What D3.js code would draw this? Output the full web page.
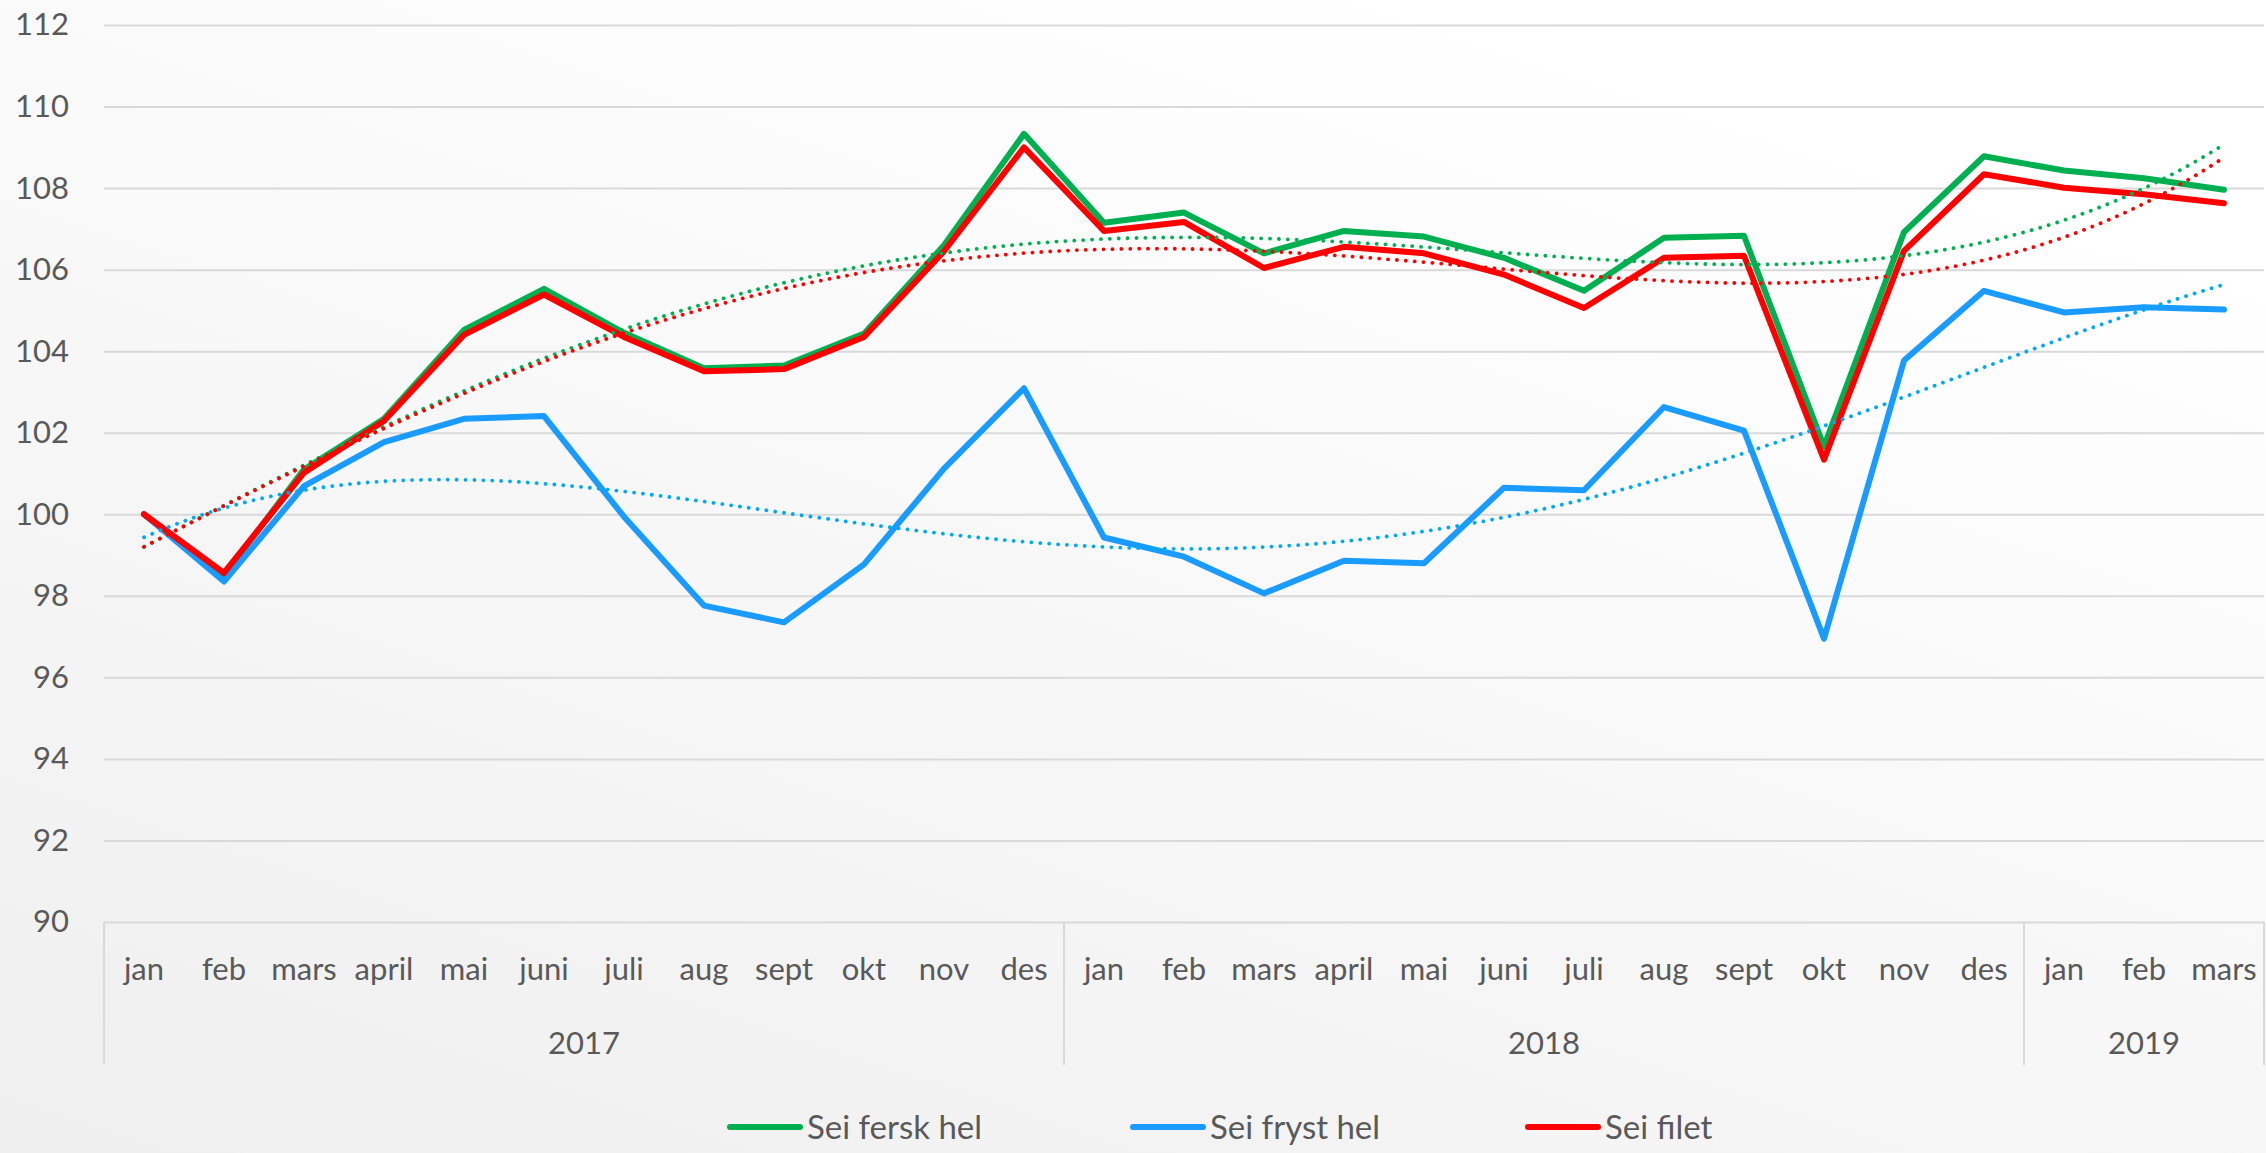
<!DOCTYPE html>
<html>
<head>
<meta charset="utf-8">
<script src="https://cdn.jsdelivr.net/npm/d3@7"></script>
<style>
  html, body { margin: 0; padding: 0; }
  body { width: 2266px; height: 1153px; overflow: hidden; }
  text { font-family: Lato, "Open Sans", sans-serif; fill: #595959; }
</style>
</head>
<body>
<script>
// month labels for the 27 categories
const months = ['jan','feb','mars','april','mai','juni','juli','aug','sept','okt','nov','des',
                'jan','feb','mars','april','mai','juni','juli','aug','sept','okt','nov','des',
                'jan','feb','mars'];
const years = ['2017', '2018', '2019'];
const yearCounts = [12, 12, 3];
const yTicks = [90, 92, 94, 96, 98, 100, 102, 104, 106, 108, 110, 112];

const seiFersk = [100.0, 98.5, 101.1, 102.34, 104.52, 105.53, 104.45, 103.58, 103.65, 104.43, 106.6, 109.33,
                  107.15, 107.4, 106.4, 106.95, 106.81, 106.29, 105.48, 106.78, 106.83, 101.66, 106.92, 108.78,
                  108.43, 108.24, 107.96];
const seiFryst = [100.0, 98.35, 100.69, 101.77, 102.34, 102.41, 99.94, 97.76, 97.35, 98.77, 101.12, 103.09,
                  99.43, 98.96, 98.06, 98.86, 98.8, 100.65, 100.59, 102.63, 102.05, 96.95, 103.77, 105.48,
                  104.95, 105.08, 105.02];
const seiFilet = [100.0, 98.56, 101.02, 102.29, 104.4, 105.39, 104.35, 103.51, 103.56, 104.35, 106.45, 109.0,
                  106.95, 107.17, 106.04, 106.56, 106.4, 105.88, 105.06, 106.29, 106.34, 101.34, 106.46, 108.34,
                  108.01, 107.85, 107.63];

const seriesNames = ['Sei fersk hel', 'Sei fryst hel', 'Sei filet'];
const seriesColors = ['#00b050', '#1a9bff', '#ff0000'];
const trendColors = ['#00b050', '#00aaee', '#ff0000'];
const seriesData = [seiFersk, seiFryst, seiFilet];
const trendOrder = 4;

const W = 2266, H = 1153;
const margin = { top: 25, right: 2, bottom: 231, left: 104 };
const width = W - margin.left - margin.right;
const height = H - margin.top - margin.bottom;

const svg = d3.select('body').append('svg')
  .attr('width', W)
  .attr('height', H);

// background gradient
const grad = svg.append('defs').append('linearGradient')
  .attr('id', 'bg')
  .attr('x1', '0').attr('y1', '1')
  .attr('x2', '0.65').attr('y2', '0');
grad.append('stop').attr('offset', '0').attr('stop-color', '#efefef');
grad.append('stop').attr('offset', '1').attr('stop-color', '#ffffff');
svg.append('rect').attr('width', W).attr('height', H).attr('fill', 'url(#bg)');

const g = svg.append('g')
  .attr('transform', `translate(${margin.left},${margin.top})`);

const x = d3.scaleBand()
  .domain(d3.range(months.length))
  .range([0, width]);
const cx = i => x(i) + x.bandwidth() / 2;

const y = d3.scaleLinear()
  .domain([90, 112])
  .range([height, 0]);

// gridlines
g.append('g')
  .call(d3.axisLeft(y).tickValues(yTicks).tickSize(-width).tickFormat(''))
  .call(s => s.select('.domain').remove())
  .selectAll('line')
  .attr('stroke', '#d9d9d9')
  .attr('stroke-width', 2);

// y axis labels
g.append('g')
  .call(d3.axisLeft(y).tickValues(yTicks).tickSize(0).tickPadding(35))
  .call(s => s.select('.domain').remove())
  .selectAll('text')
  .attr('font-size', 31)
  .attr('fill', '#595959');

// category axis: months
g.append('g')
  .attr('transform', `translate(0,${height})`)
  .call(d3.axisBottom(x).tickSize(0).tickPadding(36).tickFormat(i => months[i]))
  .call(s => s.select('.domain').remove())
  .selectAll('text')
  .attr('font-size', 31)
  .attr('fill', '#595959');

// year groups
let start = 0;
const bounds = [0];
years.forEach((yr, k) => {
  const x0 = x(start);
  const x1 = x(start + yearCounts[k] - 1) + x.bandwidth();
  g.append('text')
    .attr('x', (x0 + x1) / 2)
    .attr('y', height + 132)
    .attr('text-anchor', 'middle')
    .attr('font-size', 31)
    .text(yr);
  start += yearCounts[k];
  bounds.push(start);
});
g.selectAll('.sep')
  .data(bounds)
  .enter().append('line')
  .attr('x1', d => d < months.length ? x(d) : width)
  .attr('x2', d => d < months.length ? x(d) : width)
  .attr('y1', height)
  .attr('y2', height + 143)
  .attr('stroke', '#d9d9d9')
  .attr('stroke-width', 2);

// series lines
const line = d3.line()
  .x((d, i) => cx(i))
  .y(d => y(d));

seriesData.forEach((s, k) => {
  g.append('path')
    .datum(s)
    .attr('fill', 'none')
    .attr('stroke', seriesColors[k])
    .attr('stroke-width', 6)
    .attr('stroke-linejoin', 'round')
    .attr('stroke-linecap', 'round')
    .attr('d', line);
});

// polynomial trendline (least squares), like the spreadsheet trendline
function polyFit(ys, order) {
  const n = order + 1;
  const A = d3.range(n).map(() => new Array(n + 1).fill(0));
  ys.forEach((v, i) => {
    const t = (i + 1 - 14) / 13;
    for (let r = 0; r < n; r++) {
      for (let c = 0; c < n; c++) A[r][c] += Math.pow(t, r + c);
      A[r][n] += v * Math.pow(t, r);
    }
  });
  for (let p = 0; p < n; p++) {
    let best = p;
    for (let r = p + 1; r < n; r++) if (Math.abs(A[r][p]) > Math.abs(A[best][p])) best = r;
    [A[p], A[best]] = [A[best], A[p]];
    for (let r = 0; r < n; r++) {
      if (r === p) continue;
      const f = A[r][p] / A[p][p];
      for (let c = p; c <= n; c++) A[r][c] -= f * A[p][c];
    }
  }
  const coef = A.map((row, r) => row[n] / row[r]);
  return t => {
    const u = (t - 14) / 13;
    return coef.reduce((acc, c, r) => acc + c * Math.pow(u, r), 0);
  };
}

const trendLine = d3.line()
  .x(d => cx(0) + (d.t - 1) * x.step())
  .y(d => y(d.v));

seriesData.forEach((s, k) => {
  const f = polyFit(s, trendOrder);
  const pts = d3.range(1, months.length + 0.001, 0.1).map(t => ({ t: t, v: f(t) }));
  g.append('path')
    .datum(pts)
    .attr('fill', 'none')
    .attr('stroke', trendColors[k])
    .attr('stroke-width', 3.8)
    .attr('stroke-linecap', 'round')
    .attr('stroke-dasharray', '0.1 8.8')
    .attr('d', trendLine);
});

// legend
const legendX = [730, 1133, 1528];
const legend = svg.append('g');
seriesNames.forEach((name, k) => {
  legend.append('line')
    .attr('x1', legendX[k])
    .attr('x2', legendX[k] + 70)
    .attr('y1', 1127)
    .attr('y2', 1127)
    .attr('stroke', seriesColors[k])
    .attr('stroke-width', 6)
    .attr('stroke-linecap', 'round');
  legend.append('text')
    .attr('x', legendX[k] + 77)
    .attr('y', 1139)
    .attr('font-size', 33)
    .text(name);
});
</script>
</body>
</html>
